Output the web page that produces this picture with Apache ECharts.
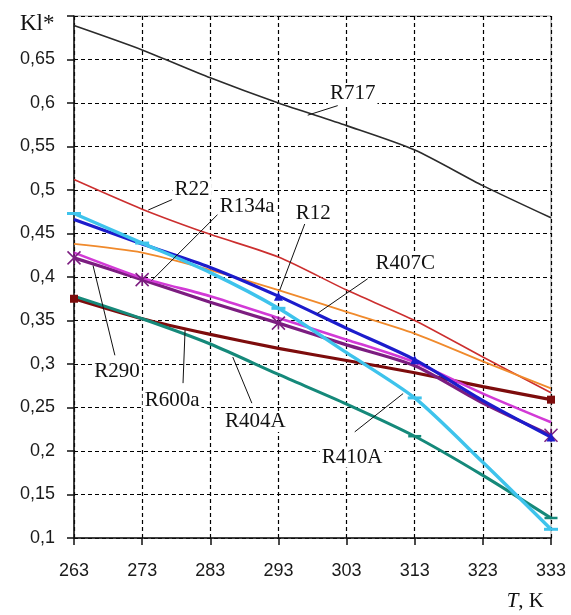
<!DOCTYPE html>
<html>
<head>
<meta charset="utf-8">
<script src="https://cdn.jsdelivr.net/npm/echarts@6/dist/echarts.min.js"></script>
<style>
  html, body { margin: 0; padding: 0; background: #fff; }
  #chart { width: 571px; height: 615px; }
</style>
</head>
<body>
<div id="chart"></div>
<script>
/* Kl* against temperature for several refrigerants */

var temps = ["263", "273", "283", "293", "303", "313", "323", "333"];

var r717  = [0.689, 0.661, 0.629, 0.600, 0.574, 0.546, 0.505, 0.468];
var r22   = [0.512, 0.478, 0.449, 0.423, 0.385, 0.350, 0.308, 0.267];
var r12   = [0.438, 0.428, 0.408, 0.385, 0.360, 0.335, 0.303, 0.272];
var r407c = [0.466, 0.438, 0.411, 0.378, 0.341, 0.305, 0.258, 0.216];
var r134a = [0.428, 0.399, 0.378, 0.353, 0.328, 0.302, 0.266, 0.233];
var r290  = [0.422, 0.397, 0.371, 0.347, 0.322, 0.298, 0.255, 0.218];
var r600a = [0.375, 0.352, 0.334, 0.318, 0.304, 0.290, 0.274, 0.259];
var r404a = [0.378, 0.352, 0.323, 0.288, 0.254, 0.217, 0.172, 0.123];
var r410a = [0.473, 0.439, 0.405, 0.364, 0.313, 0.261, 0.187, 0.110];

// name, text centre [T, Kl], leader from, leader to
var notes = [
  ["R717",  [303.9, 0.611], [301.7, 0.597], [297.3, 0.586]],
  ["R22",   [280.3, 0.501], [277.4, 0.489], [273.9, 0.477]],
  ["R134a", [288.4, 0.481], [284.1, 0.472], [274.4, 0.396]],
  ["R12",   [298.1, 0.473], [297.2, 0.468], [293.2, 0.385]],
  ["R407C", [311.6, 0.416], [306.1, 0.398], [298.7, 0.358]],
  ["R290",  [269.3, 0.291], [269.0, 0.310], [265.8, 0.413]],
  ["R600a", [277.4, 0.258], [279.0, 0.278], [279.3, 0.339]],
  ["R404A", [289.6, 0.234], [289.1, 0.255], [286.3, 0.308]],
  ["R410A", [303.8, 0.193], [304.2, 0.222], [311.3, 0.266]]
];

var markAt = [0, 1, 3, 5, 7];
var crossPath = 'path://M0,0L10,10M10,0L0,10M5,0L5,10';

function line(name, data, color, width, sym, symSize, marks) {
  return {
    name: name,
    type: 'line',
    data: data,
    smooth: 0.25,
    silent: true,
    lineStyle: { color: color, width: width },
    itemStyle: { color: color, borderColor: color, borderWidth: sym == crossPath ? 1.5 : 0 },
    showSymbol: !!sym,
    symbol: function (v, p) {
      if (!sym) return 'none';
      return marks.indexOf(p.dataIndex) >= 0 ? sym : 'none';
    },
    symbolSize: symSize || 8
  };
}

function fmt(v) {
  return String(+v.toFixed(2)).replace('.', ',');
}

var myChart = echarts.init(document.getElementById('chart'));

var option = {
  animation: false,
  backgroundColor: '#fff',
  grid: {
    left: 74, right: 20, top: 16, bottom: 77,
    show: true, borderColor: '#999', borderWidth: 1, backgroundColor: '#fff'
  },
  xAxis: {
    type: 'category',
    data: temps,
    boundaryGap: false,
    axisLine: { lineStyle: { color: '#111', width: 1.5 } },
    axisTick: { show: true, length: 7, inside: false, lineStyle: { color: '#111', width: 1.5 } },
    axisLabel: { margin: 24, fontSize: 18, fontFamily: 'Liberation Sans', color: '#1a1a1a' },
    splitLine: { show: true, lineStyle: { color: '#000', type: [4, 3], width: 1.2 } }
  },
  yAxis: {
    type: 'value',
    min: 0.1, max: 0.7, interval: 0.05,
    axisLine: { show: true, lineStyle: { color: '#111', width: 1.5 } },
    axisTick: { show: true, length: 7, lineStyle: { color: '#111', width: 1.5 } },
    axisLabel: {
      margin: 19, fontSize: 18, fontFamily: 'Liberation Sans', color: '#1a1a1a',
      formatter: function (v) { return v > 0.69 ? '' : fmt(v); }
    },
    splitLine: { show: true, lineStyle: { color: '#000', type: [4, 3], width: 1.2 } }
  },
  series: [
    line('R717', r717, '#2b2b2b', 1.6),
    line('R22', r22, '#cc2f2f', 1.6),
    line('R12', r12, '#f08a2c', 1.8),
    line('R600a', r600a, '#7d0c0c', 3.2, 'rect', 8, [0, 7]),
    line('R404A', r404a, '#15897a', 3, 'rect', [13, 2.5], [5, 7]),
    line('R290', r290, '#7c1d80', 3.2, crossPath, 13, [0, 1, 3, 7]),
    line('R134a', r134a, '#d23ad6', 2.6),
    line('R407C', r407c, '#1c1ccc', 3.2, 'triangle', 9, [3, 5, 7]),
    line('R410A', r410a, '#3ec3ec', 3.4, 'rect', [14, 3], markAt)
  ]
};

myChart.setOption(option);

function toPx(T, v) {
  var a = myChart.convertToPixel({ gridIndex: 0 }, [0, v]);
  var b = myChart.convertToPixel({ gridIndex: 0 }, [temps.length - 1, v]);
  var f = (T - (+temps[0])) / ((+temps[temps.length - 1]) - (+temps[0]));
  return [a[0] + (b[0] - a[0]) * f, a[1]];
}

var graphics = [];
for (var i = 0; i < notes.length; i++) {
  var n = notes[i];
  var p1 = toPx(n[2][0], n[2][1]);
  var p2 = toPx(n[3][0], n[3][1]);
  graphics.push({
    type: 'line', silent: true, z: 50,
    shape: { x1: p1[0], y1: p1[1], x2: p2[0], y2: p2[1] },
    style: { stroke: '#111', lineWidth: 1 }
  });
  var c = toPx(n[1][0], n[1][1]);
  graphics.push({
    type: 'text', silent: true, z: 60,
    x: c[0], y: c[1],
    style: {
      text: n[0], fill: '#111', font: '21px "Liberation Serif"',
      align: 'center', verticalAlign: 'middle',
      backgroundColor: '#fff', padding: [0, 2]
    }
  });
}

graphics.push({
  type: 'text', silent: true, left: 20, top: 12,
  style: { text: 'Kl*', fill: '#111', font: '23px "Liberation Serif"' }
});
graphics.push({
  type: 'text', silent: true, right: 27, bottom: 3,
  style: {
    text: '{i|T}{n|, K}',
    rich: {
      i: { fontFamily: 'Liberation Serif', fontStyle: 'italic', fontSize: 21, fill: '#111' },
      n: { fontFamily: 'Liberation Serif', fontSize: 21, fill: '#111' }
    }
  }
});

myChart.setOption({ graphic: graphics });
</script>
</body>
</html>
